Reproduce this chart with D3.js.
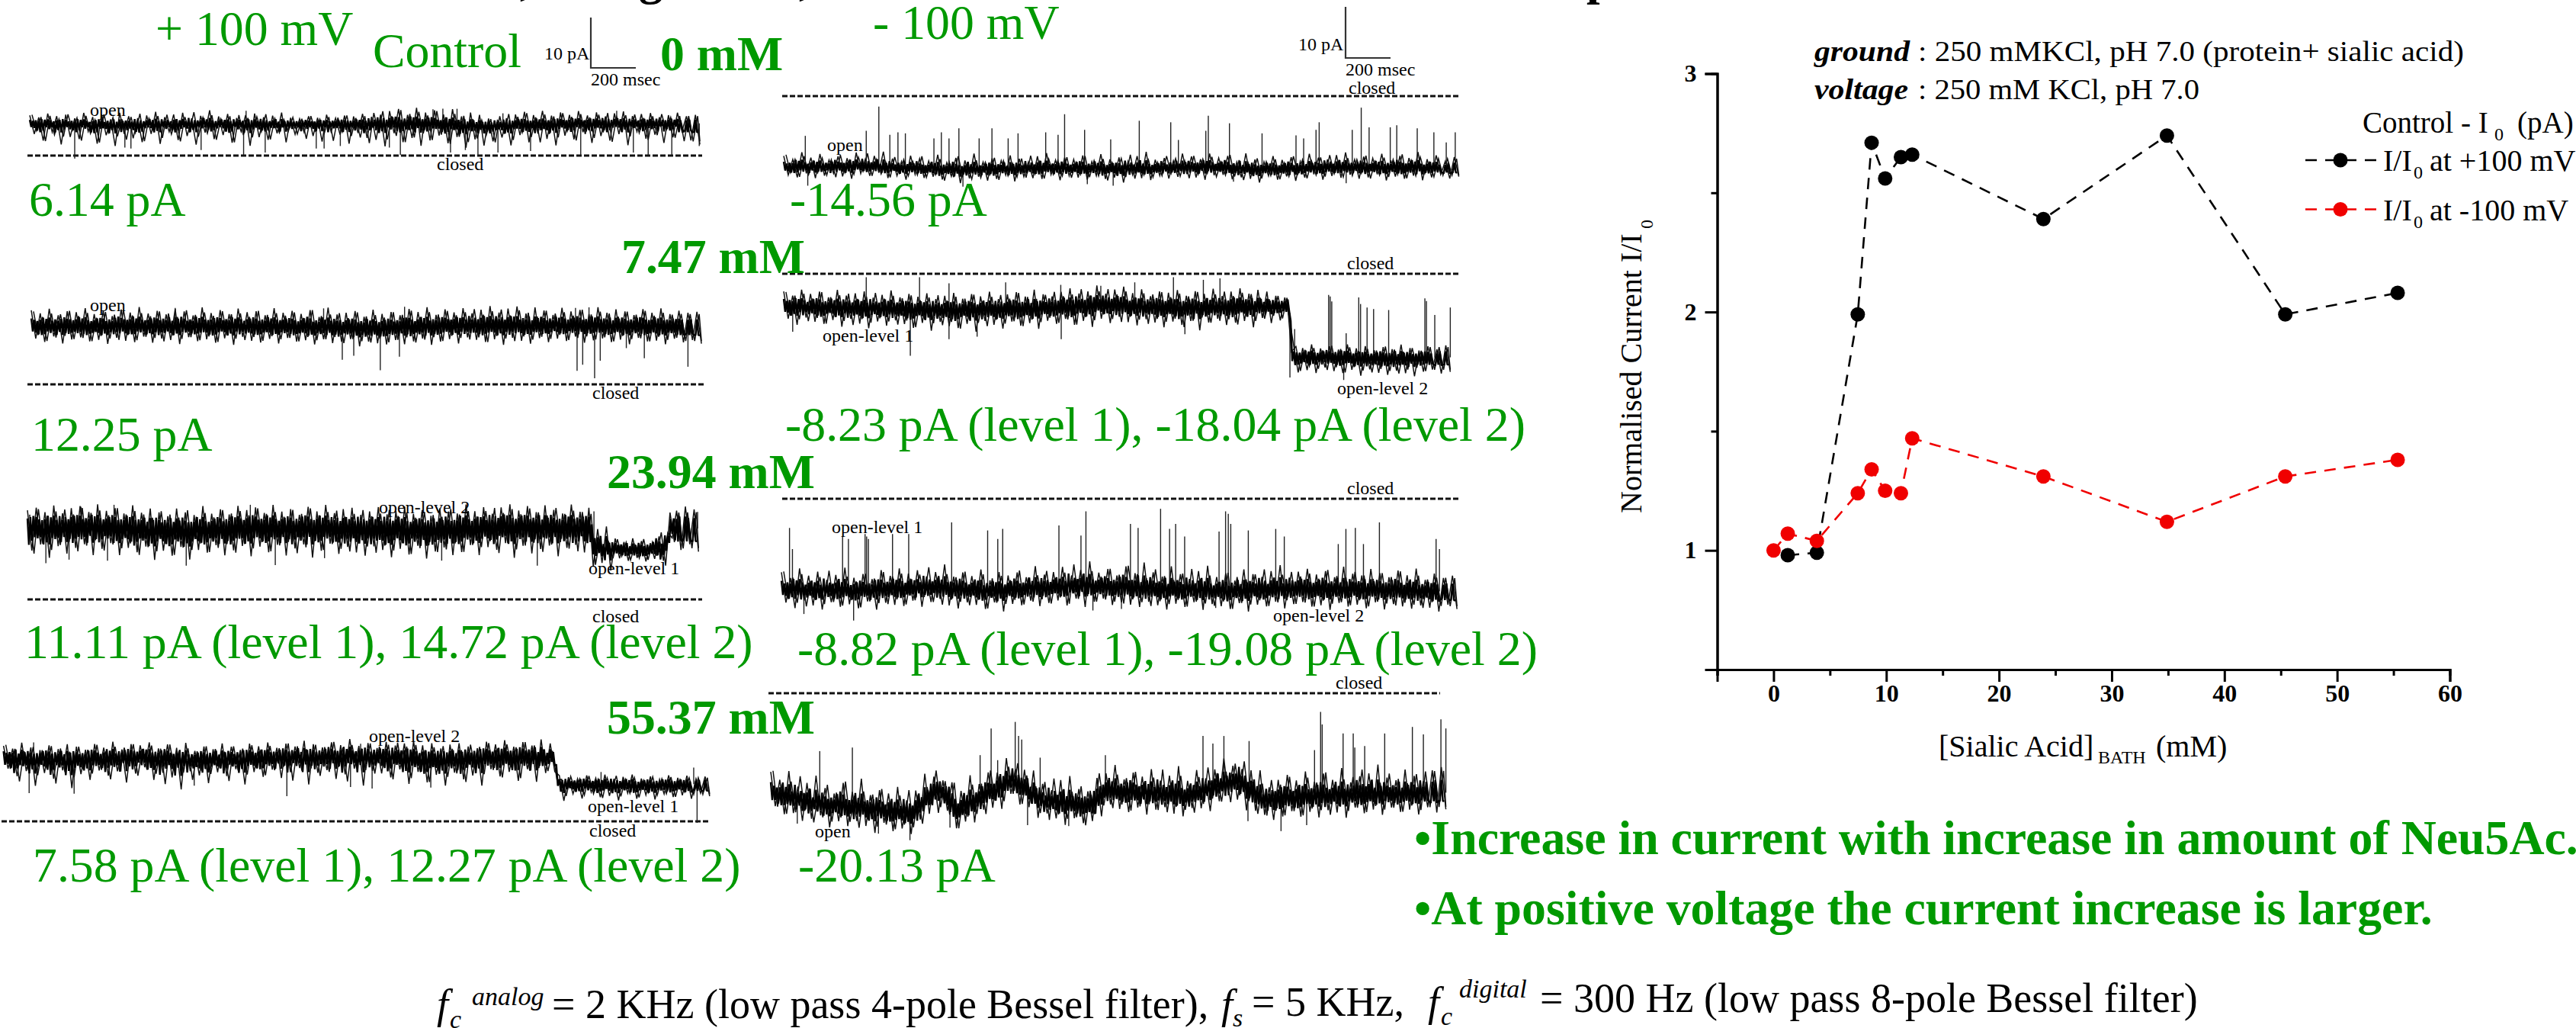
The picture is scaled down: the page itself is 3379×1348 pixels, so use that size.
<!DOCTYPE html>
<html>
<head>
<meta charset="utf-8">
<script src="https://cdn.jsdelivr.net/npm/d3@7"></script>
<style>
  html, body { margin: 0; padding: 0; background: #fff; overflow: hidden; }
  text { font-family: "Liberation Serif", serif; }
</style>
</head>
<body>
<script>
// Normalised current plot
const sialicBlack = [1.26, 3.84, 7.47, 8.7, 9.9, 11.3, 12.3, 23.94, 34.9, 45.4, 55.37];
const currentBlack = [0.98, 0.99, 1.99, 2.71, 2.56, 2.65, 2.66, 2.39, 2.74, 1.99, 2.08];
const sialicRed = [0, 1.26, 3.84, 7.47, 8.7, 9.9, 11.3, 12.3, 23.94, 34.9, 45.4, 55.37];
const currentRed = [1, 1.07, 1.04, 1.24, 1.34, 1.25, 1.24, 1.47, 1.31, 1.12, 1.31, 1.38];
const xMajor = [0, 10, 20, 30, 40, 50, 60];
const xMinor = [-5, 5, 15, 25, 35, 45, 55];
const yMajor = [1, 2, 3];
const yMinor = [0.5, 1.5, 2.5];

// Current traces. Level = [ms, pA] of the dark core of the trace.
// Noise = whisker deviations from the core in pA, up/down in turn, estimated by eye.
// Up/down spikes = [ms, pA] of the long thin events.
const trace1Level = [[0, 6.4], [400, 6.2], [700, 6.4], [1300, 6.3], [1700, 6.5], [2100, 6.1], [2500, 6.5], [2980, 6.4]];
const trace1Noise = [1.6, -2.1, 1.2, -3.4, 2.0, -1.7, 1.5, -4.1, 1.8, -2.6, 1.1, -3.0, 2.2, -1.5, 1.4, -3.9, 1.9, -2.2, 1.0, -4.3, 2.3, -1.9, 1.6, -2.8, 1.2, -3.6, 1.7, -2.0, 2.4, -4.0,
  1.3, -1.6, 1.8, -3.3, 2.1, -2.5, 1.0, -4.2, 1.5, -1.8, 2.6, -3.1, 1.4, -2.3, 1.9, -3.8, 1.1, -1.6, 1.7, -4.4, 2.0, -2.7, 1.3, -3.2, 1.6, -1.9, 2.2, -3.7, 1.2, -2.1,
  1.0, -1.7, 1.5, -2.4, 1.2, -3.5, 1.8, -1.6, 1.1, -2.2, 1.6, -4.0, 1.4, -1.9, 1.9, -2.9, 1.3, -3.3, 1.7, -4.6, 2.4, -2.0, 2.8, -3.8, 1.6, -3.0, 3.0, -4.5, 2.1, -3.4,
  2.6, -2.4, 1.8, -3.9, 2.9, -2.6, 1.5, -4.7, 2.3, -3.0, 1.9, -4.2, 1.2, -3.3, 1.0, -2.5, 1.3, -4.1, 2.0, -2.1, 2.5, -3.6, 1.8, -1.9, 2.6, -3.0, 1.6, -4.3, 2.2, -2.4,
  1.7, -3.2, 2.4, -1.8, 1.5, -4.0, 2.1, -2.6, 1.3, -3.5, 1.9, -2.2, 2.3, -4.4, 1.4, -1.7, 1.8, -3.1, 2.0, -2.3, 1.2, -3.9, 1.6, -2.8, 2.1, -1.6, 1.4, -3.4, 1.7, -4.2];
const trace1Down = [[200, -0.6], [423, 1.6], [450, 1.4], [762, 1.1], [951, 0.1], [1047, 0.6], [1274, 1.4], [1309, 1.4], [1381, 1.9], [1599, 1.6], [1648, 0.1], [1871, 0.6], [1937, 1.1], [1993, 0.1], [2082, 0.6], [2227, 0.9], [2450, 0.1], [2684, 0.6], [2750, 0.1], [2855, 0.1], [2977, 1.9]];
const trace1Up = [[962, 8.9], [1793, 9.2], [1837, 9.3], [1900, 9.3], [2104, 8.4], [2610, 8.9]];

const trace2Level = [[0, 11.5], [600, 11.6], [1200, 11.5], [1500, 11.1], [1800, 11.6], [2400, 11.7], [2980, 11.4]];
const trace2Noise = [3.2, -2.4, 2.6, -3.1, 3.5, -2.0, 2.2, -3.4, 3.0, -2.6, 2.8, -2.2, 3.6, -3.0, 2.4, -2.7, 3.1, -3.5, 2.0, -2.3, 3.3, -2.9, 2.7, -3.2, 3.8, -2.1, 2.5, -3.3, 3.0, -2.5,
  2.3, -2.8, 3.4, -3.6, 2.9, -2.2, 2.1, -3.0, 3.7, -2.6, 2.6, -3.3, 3.2, -2.4, 2.4, -3.7, 3.5, -2.1, 2.8, -2.9, 3.0, -3.2, 2.2, -2.5, 3.6, -3.4, 2.7, -2.3, 3.1, -3.0,
  2.5, -2.7, 3.3, -3.5, 2.0, -2.4, 3.9, -3.1, 2.6, -2.8, 3.0, -2.2, 3.4, -3.6, 2.3, -2.6, 3.7, -3.0, 2.8, -3.3, 3.1, -2.5, 2.4, -3.4, 3.6, -2.9, 2.9, -2.4, 3.8, -3.7,
  2.2, -3.1, 3.3, -2.6, 2.7, -3.5, 3.5, -2.3, 2.5, -2.8, 3.2, -3.2, 3.9, -2.7, 2.6, -3.8, 3.4, -2.4, 3.8, -3.0, 2.4, -3.6, 3.6, -2.5, 3.0, -3.3, 2.1, -2.6, 3.5, -3.1,
  2.8, -2.2, 3.1, -3.4, 2.3, -2.9, 3.7, -2.5, 2.6, -3.2, 3.3, -2.7, 2.9, -3.6, 2.2, -2.3, 3.4, -3.0, 2.7, -2.8, 3.6, -3.5, 2.5, -2.4, 3.2, -3.1, 2.8, -2.6, 3.0, -3.3];
const trace2Down = [[1383, 4.9], [1434, 5.7], [1552, 2.8], [1637, 5.5], [2427, 2.7], [2452, 3.9], [2505, 1.2], [2530, 4.7], [2646, 7.2], [2726, 5.2], [2920, 3.5]];
const trace2Up = [[640, 15.2], [1300, 15.1], [1660, 15.4], [2420, 15.2], [2480, 15.3]];

const trace3Level = [[0, 14.1], [300, 14.3], [700, 13.6], [1000, 14.2], [1500, 14.0], [1800, 13.7], [2100, 14.4], [2500, 14.2], [2528, 10.3], [2700, 9.9], [2839, 10.3], [2860, 14.0], [2984, 14.1]];
const trace3Noise = [3.6, -4.4, 4.1, -3.2, 3.2, -5.9, 4.5, -3.6, 2.9, -5.1, 3.9, -4.0, 4.3, -3.3, 3.1, -5.5, 4.6, -4.2, 3.4, -3.0, 4.0, -5.3, 3.0, -3.8, 4.7, -4.6, 3.3, -3.4, 4.2, -6.0,
  3.5, -4.1, 2.8, -5.0, 4.4, -3.2, 3.7, -5.7, 3.1, -3.9, 4.8, -4.5, 3.2, -3.1, 4.0, -5.2, 2.9, -4.3, 4.5, -3.5, 3.6, -5.6, 4.1, -3.7, 3.0, -4.8, 4.6, -3.3, 3.3, -5.4,
  3.8, -4.0, 2.7, -3.2, 4.3, -5.8, 3.4, -4.4, 4.7, -3.0, 3.1, -5.0, 3.9, -3.6, 4.2, -4.7, 2.8, -5.3, 3.5, -3.4, 4.4, -4.1, 3.0, -5.5, 3.7, -3.8, 4.6, -4.9, 3.2, -3.1,
  4.0, -5.6, 2.9, -4.2, 4.3, -3.5, 3.6, -5.1, 3.1, -4.6, 4.8, -3.3, 3.4, -5.4, 4.1, -3.9, 2.7, -4.5, 3.9, -3.2, 4.5, -6.1, 3.3, -3.7, 4.2, -5.2, 3.0, -4.3, 4.4, -3.6,
  3.5, -5.7, 2.8, -4.0, 4.6, -3.4, 3.2, -4.9, 4.0, -5.5, 3.7, -3.0, 4.3, -4.4, 2.0, -1.9, 1.4, -2.3, 2.2, -1.7, 1.6, -2.5, 1.1, -2.1, 2.3, -2.6, 1.5, -1.8, 3.6, -4.2, 4.4, -3.1, 3.8, -4.6];
const trace3Down = [[82, 7.2], [185, 7.9], [356, 7.7], [706, 6.7], [1102, 6.8], [1321, 8.2], [1842, 7.7], [2267, 6.7]];
const trace3Up = [[238, 18.4], [385, 18.8], [991, 18.8], [2519, 17.5], [2980, 17.4]];

const trace4Level = [[0, 12.6], [300, 12.3], [600, 12.8], [850, 12.2], [1200, 12.7], [1600, 13.0], [1900, 12.3], [2200, 12.8], [2450, 12.9], [2470, 7.5], [2800, 7.3], [3140, 7.4]];
const trace4Noise = [2.4, -2.1, 1.9, -3.6, 3.1, -2.5, 2.2, -5.4, 1.7, -2.8, 2.7, -3.9, 2.0, -2.2, 3.0, -5.7, 2.5, -3.0, 1.8, -4.2, 2.9, -2.4, 2.1, -3.5, 3.2, -2.7, 1.6, -5.0, 2.6, -3.3,
  2.3, -2.0, 3.0, -4.4, 1.9, -2.9, 2.8, -3.7, 2.2, -6.0, 3.3, -2.3, 1.8, -3.1, 2.6, -4.7, 2.0, -2.6, 3.1, -3.4, 2.4, -2.1, 1.7, -5.2, 2.9, -2.8, 2.3, -3.8, 3.0, -2.4,
  1.9, -4.1, 2.7, -3.0, 2.1, -2.2, 3.2, -5.5, 2.5, -3.2, 1.8, -2.7, 2.8, -4.5, 2.2, -3.6, 3.4, -2.5, 2.0, -5.9, 2.6, -2.9, 1.7, -3.3, 3.0, -4.0, 2.4, -2.3, 2.9, -5.1,
  3.5, -2.6, 2.7, -4.6, 3.2, -3.1, 2.1, -5.3, 2.8, -2.8, 3.0, -4.2, 2.3, -3.5, 1.9, -5.6, 3.1, -2.4, 2.5, -3.9, 3.3, -3.0, 2.0, -4.8, 2.9, -2.5, 2.2, -5.0, 3.4, -3.3,
  2.6, -2.7, 1.6, -3.4, 1.3, -2.0, 1.0, -2.9, 1.7, -1.6, 1.2, -2.6, 1.9, -2.3, 1.1, -3.2, 1.5, -1.7, 2.0, -2.8, 1.2, -2.1, 1.6, -3.0, 1.0, -1.9, 1.8, -2.5, 1.3, -2.2, 1.7, -2.9, 1.1, -1.8, 1.5, -2.4];
const trace4Down = [[114, 5.6], [314, 5.5], [848, 7.1], [1260, 5.0], [1543, 6.8], [1639, 6.5], [1900, 6.7], [3084, -0.3]];
const trace4Up = [[134, 15.7], [1588, 15.4], [2657, 9.8], [3069, 10.7]];

const trace5Level = [[0, -14.2], [350, -14.0], [780, -14.7], [1200, -14.3], [1500, -14.5], [1900, -14.1], [2100, -14.6], [2500, -14.2], [3002, -14.4]];
const trace5Noise = [2.3, -1.5, 1.6, -2.0, 3.0, -1.2, 1.9, -2.2, 2.6, -1.7, 1.4, -1.3, 2.1, -1.9, 1.7, -2.4, 2.8, -1.4, 1.5, -1.8, 2.2, -1.1, 3.1, -2.1, 1.8, -1.6, 1.3, -2.3, 2.5, -1.2,
  2.0, -1.8, 1.6, -1.5, 2.9, -2.0, 1.4, -1.3, 2.4, -2.6, 1.9, -1.7, 3.2, -1.4, 1.5, -2.2, 2.2, -1.9, 1.7, -1.2, 2.7, -2.5, 2.0, -1.6, 1.3, -1.9, 2.4, -2.1, 3.0, -1.3,
  1.6, -2.4, 2.1, -1.5, 1.8, -1.8, 2.6, -2.2, 1.4, -1.4, 2.9, -2.0, 1.9, -1.7, 2.3, -2.7, 1.5, -1.2, 2.5, -1.9, 3.3, -2.3, 1.7, -1.5, 2.0, -2.1, 1.4, -1.8, 2.8, -1.3,
  2.2, -2.0, 1.6, -2.5, 2.7, -1.6, 1.9, -1.4, 2.4, -2.2, 1.3, -1.7, 3.1, -1.9, 2.0, -2.6, 1.5, -1.3, 2.6, -2.1, 1.8, -1.5, 2.3, -2.4, 1.4, -1.8, 2.9, -1.2, 2.1, -2.3,
  1.7, -1.6, 2.5, -2.0, 3.0, -1.4, 1.6, -2.2, 2.2, -1.9, 1.9, -1.3, 2.8, -2.5, 1.5, -1.7, 2.4, -2.1, 2.0, -1.5, 3.2, -2.4, 1.8, -1.8, 2.6, -1.2, 1.4, -2.0, 2.3, -1.6];
const trace5Up = [[96, -7.9], [367, -6.9], [423, -2.1], [472, -7.7], [508, -7.2], [541, -7.4], [668, -8.4], [701, -7.2], [735, -8.4], [779, -6.4], [869, -8.4], [926, -6.4], [998, -8.4], [1042, -7.4], [1165, -7.2], [1220, -7.7], [1249, -3.6], [1338, -6.7], [1454, -8.6], [1581, -4.9], [1721, -5.2], [1755, -8.7], [1877, -6.9], [1888, -3.9], [1982, -5.4], [2127, -7.4], [2278, -7.8], [2312, -8.4], [2367, -6.7], [2381, -5.2], [2528, -6.7], [2568, -2.3], [2603, -6.2], [2697, -6.2], [2726, -5.8], [2817, -6.4], [2891, -7.2], [2946, -9.2], [2986, -7.2]];
const trace5Down = [[107, -17.8], [797, -18], [1350, -17.5], [1465, -17.8], [2000, -17], [2501, -17.3]];

const trace6Level = [[0, -6.5], [350, -6.8], [750, -7.2], [1100, -6.9], [1400, -6.2], [1800, -6.8], [2249, -6.2], [2262, -16.5], [2420, -16.4], [2600, -16.7], [2964, -16.6]];
const trace6Noise = [3.0, -2.4, 2.2, -3.6, 3.4, -2.1, 2.6, -2.9, 3.1, -3.3, 2.0, -2.5, 3.5, -3.8, 2.4, -2.2, 2.9, -3.1, 3.3, -4.0, 2.1, -2.6, 2.7, -3.4, 3.6, -2.3, 2.3, -3.0, 3.0, -3.7,
  2.5, -2.7, 3.2, -4.2, 2.1, -2.4, 2.8, -3.2, 3.4, -3.6, 2.2, -2.8, 3.1, -4.4, 2.6, -2.3, 3.5, -3.1, 2.0, -3.9, 2.9, -2.5, 3.3, -3.4, 2.4, -2.9, 3.7, -4.1, 2.7, -2.6,
  2.2, -3.3, 3.0, -2.4, 3.6, -3.7, 2.5, -3.0, 2.8, -4.3, 3.9, -2.7, 2.3, -3.5, 3.2, -2.2, 3.8, -3.2, 2.6, -3.8, 3.4, -2.5, 2.1, -3.1, 3.1, -4.0, 2.9, -2.8, 3.5, -3.4,
  2.4, -2.6, 3.3, -4.5, 2.7, -3.0, 3.7, -2.3, 2.2, -3.6, 3.0, -3.2, 3.6, -2.9, 2.5, -4.2, 3.2, -2.4, 2.8, -3.5, 1.9, -3.0, 1.5, -2.4, 2.2, -3.1, 1.7, -2.7, 2.4, -3.3,
  1.6, -2.2, 2.0, -2.9, 1.4, -3.2, 2.5, -2.5, 1.8, -3.6, 2.3, -2.3, 1.5, -3.0, 2.1, -3.4, 1.7, -2.6, 2.6, -3.1, 1.9, -3.7, 1.4, -2.8, 2.2, -2.4, 1.6, -3.2, 2.4, -2.9];
const trace6Up = [[367, -0.7], [604, -0.7], [735, -1.9], [987, -1.7], [1232, -2.2], [1410, -2.4], [1561, -1.7], [1733, -0.7], [1866, -1.2], [1940, -0.9], [2272, -11], [2423, -4.2], [2430, -4.5], [2437, -5.5], [2501, -11.8], [2557, -4.7], [2565, -6], [2594, -6.7], [2623, -7], [2690, -7.2], [2851, -4.9], [2858, -5.4], [2895, -8.2], [2964, -6.7]];
const trace6Down = [[40, -11.5], [563, -16.3], [735, -13], [860, -12.5], [1234, -13], [1784, -12], [2251, -20.6], [2490, -21.1]];

const trace7Level = [[0, -18], [330, -18.2], [660, -17.6], [950, -18.3], [1300, -17.3], [1700, -18], [2000, -18.3], [2300, -17.9], [2700, -18.1], [3004, -18.5]];
const trace7Noise = [3.4, -2.6, 2.3, -3.7, 4.2, -2.2, 2.8, -3.1, 3.6, -3.9, 2.0, -2.4, 3.0, -3.3, 4.5, -2.8, 2.5, -3.6, 3.2, -2.3, 2.1, -4.0, 3.8, -2.7, 2.6, -3.2, 4.0, -3.5, 2.9, -2.5,
  3.5, -3.8, 2.2, -2.9, 3.1, -2.2, 4.7, -3.4, 2.4, -3.9, 3.3, -2.6, 2.7, -3.0, 4.1, -3.7, 2.0, -2.3, 3.7, -4.2, 2.9, -2.8, 3.4, -3.2, 2.3, -2.4, 4.4, -3.6, 2.6, -3.1,
  3.0, -2.7, 3.9, -3.8, 2.1, -2.5, 3.2, -4.1, 5.0, -3.0, 2.8, -2.3, 3.6, -3.5, 2.4, -2.9, 4.3, -3.3, 3.0, -3.7, 5.2, -2.6, 3.3, -3.2, 2.5, -4.0, 4.6, -2.8, 3.1, -3.4,
  2.2, -2.4, 3.8, -3.9, 4.9, -2.7, 2.7, -3.1, 3.5, -3.6, 2.0, -2.5, 4.2, -4.2, 3.2, -2.9, 2.6, -3.3, 3.7, -2.4, 4.8, -3.8, 2.3, -3.0, 3.4, -2.6, 4.0, -3.5, 2.9, -3.2,
  3.6, -4.1, 2.4, -2.7, 4.5, -3.4, 3.1, -3.0, 2.8, -3.7, 4.1, -2.5, 3.3, -3.9, 2.5, -2.8, 3.9, -3.2, 3.0, -3.6, 4.4, -2.9, 2.2, -3.3, 3.5, -4.0, 2.7, -2.6, 3.2, -3.4];
const trace7Up = [[36, -5.8], [49, -10], [272, -7.5], [298, -8], [372, -7], [379, -7.5], [387, -8], [494, -7], [566, -7], [757, -4.7], [917, -6.3], [962, -8], [984, -6], [1234, -5.3], [1332, -7.3], [1354, -2.5], [1552, -5], [1586, -5.8], [1686, -2], [1726, -6], [1753, -5], [1793, -7.5], [1946, -6.5], [1975, -2.5], [1987, -3], [1998, -5], [2076, -6.3], [2198, -6], [2236, -7.5], [2476, -9], [2510, -6], [2552, -5.8], [2588, -9], [2659, -4.7], [2911, -8], [2926, -10]];
const trace7Down = [[100, -22.9], [321, -24.2], [1385, -22.2], [1512, -21.9], [1931, -21.7]];

const trace8Level = [[7, -19.8], [185, -21.9], [408, -22.9], [630, -23.9], [742, -18.8], [831, -23.4], [964, -20], [1076, -17.3], [1209, -21.4], [1432, -22.4], [1476, -19.4], [1855, -20.4], [2078, -17.3], [2189, -21.4], [2412, -20.4], [2969, -19.8]];
const trace8Noise = [4.1, -2.5, 3.0, -3.6, 5.2, -2.9, 2.6, -4.0, 3.8, -3.1, 5.6, -2.2, 3.3, -4.4, 2.4, -3.0, 4.7, -3.8, 3.1, -2.6, 5.9, -3.4, 2.8, -4.6, 4.0, -2.4, 3.5, -3.9, 5.0, -3.2,
  2.5, -4.1, 3.9, -2.8, 5.4, -3.5, 3.0, -4.8, 2.7, -2.3, 4.4, -3.7, 3.6, -3.0, 5.7, -4.2, 2.9, -2.7, 4.2, -3.3, 3.2, -4.5, 5.1, -2.5, 2.6, -3.8, 3.7, -3.1, 4.8, -4.0,
  3.4, -2.4, 2.3, -3.2, 4.5, -4.3, 5.5, -2.8, 3.1, -3.6, 2.8, -3.0, 4.3, -4.7, 3.5, -2.6, 5.3, -3.4, 2.5, -3.9, 4.0, -2.9, 3.3, -4.2, 4.9, -3.1, 2.7, -2.5, 3.8, -3.7,
  5.8, -4.1, 3.0, -2.7, 4.6, -3.3, 2.4, -4.4, 3.6, -3.0, 5.2, -2.4, 3.2, -3.8, 2.9, -4.6, 4.1, -3.2, 5.6, -2.8, 2.6, -4.0, 3.9, -3.5, 4.7, -2.6, 3.4, -3.9, 5.0, -3.1,
  2.8, -4.3, 4.4, -2.9, 3.1, -3.4, 5.4, -4.5, 2.5, -2.5, 3.7, -3.7, 4.2, -3.0, 5.9, -4.1, 3.3, -2.7, 2.7, -3.6, 4.8, -3.2, 3.5, -4.2, 2.4, -2.8, 4.5, -3.9, 5.1, -3.3];
const trace8Up = [[218, -11.5], [363, -10.8], [931, -12.3], [980, -7], [1009, -13.3], [1087, -5.7], [1102, -8.5], [1116, -9.2], [1198, -12.8], [1488, -12.3], [1922, -8.5], [1966, -10], [2015, -8.5], [2127, -9.5], [2418, -11.3], [2445, -3.7], [2452, -6.2], [2545, -8], [2590, -8], [2597, -10.8], [2641, -10.5], [2730, -8], [2853, -6.7], [2902, -8.2], [2980, -5.2], [3002, -7]];
const trace8Down = [[118, -25.9], [479, -27.9], [619, -29.2], [797, -26.7], [1142, -26.2], [1325, -26.4], [2122, -25.4], [2269, -27.4], [2383, -26.2]];

const width = 3379, height = 1348;
const green = "#009900";

const svg = d3.select("body")
    .append("svg")
    .attr("width", width)
    .attr("height", height)
    .attr("viewBox", [0, 0, width, height]);

function label(x, y, str, size, opts = {}) {
    const t = svg.append("text")
        .attr("x", x)
        .attr("y", y)
        .attr("font-size", size)
        .attr("fill", opts.fill || "#000")
        .attr("font-weight", opts.weight || "normal")
        .attr("font-style", opts.style || "normal")
        .text(str);
    // some of the text in the picture is stretched sideways
    if (opts.len) t.attr("textLength", opts.len).attr("lengthAdjust", "spacingAndGlyphs");
    return t;
}

// 10 pA = 66 px and 200 msec = 59 px on the scale bars
function drawTrace(t) {
    const xs = d3.scaleLinear().domain([0, 200]).range([t.x0, t.x0 + 59]);
    const ys = d3.scaleLinear().domain([0, 10]).range([t.closedY, t.closedY - 66]);
    const levelAt = d3.scaleLinear().domain(t.level.map(d => d[0])).range(t.level.map(d => d[1]));
    const line = d3.line().x(d => xs(d[0])).y(d => ys(d[1]));
    const n = t.noise.length;
    const step = t.duration / (n - 1);

    svg.append("line")
        .attr("x1", t.dash[0]).attr("x2", t.dash[1])
        .attr("y1", t.closedY).attr("y2", t.closedY)
        .attr("stroke", "#111").attr("stroke-width", 3).attr("stroke-dasharray", "7 3");

    // spikes
    svg.append("g").selectAll("line")
        .data(t.up.concat(t.down))
        .enter().append("line")
        .attr("x1", d => xs(d[0])).attr("x2", d => xs(d[0]))
        .attr("y1", d => ys(levelAt(d[0]))).attr("y2", d => ys(d[1]))
        .attr("stroke", "#222").attr("stroke-width", 1.4);

    // whiskers, drawn twice half a step apart to fill the band
    const whiskers = t.noise.map((v, i) => [i * step, levelAt(i * step) + v]);
    const whiskers2 = t.noise.map((v, i) => {
        const ms = Math.min((i + 0.5) * step, t.duration);
        return [ms, levelAt(ms) + 0.85 * t.noise[Math.min(i + 4, n - 1 - (n - 1 - i) % 2)]];
    });
    [whiskers, whiskers2].forEach(w => {
        svg.append("path")
            .attr("d", line(w))
            .attr("fill", "none").attr("stroke", "#111").attr("stroke-width", 1.5);
    });

    // dark core: the same deviations, small and close together
    const core = d3.range((n - 1) * 3).map(j => {
        const k = Math.floor(j / 3);
        const dev = t.noise[Math.min(k + [0, 5, 2][j % 3], n - 1)];
        const ms = j * step / 3;
        return [ms, levelAt(ms) + t.coreScale * dev];
    });
    svg.append("path")
        .attr("d", line(core))
        .attr("fill", "none").attr("stroke", "#000").attr("stroke-width", 2.4).attr("stroke-linejoin", "bevel");
}

const traces = [
    { x0: 39, closedY: 204, dash: [36, 921], duration: 2980, level: trace1Level, noise: trace1Noise, up: trace1Up, down: trace1Down, coreScale: 0.42 },
    { x0: 41, closedY: 504, dash: [36, 924], duration: 2980, level: trace2Level, noise: trace2Noise, up: trace2Up, down: trace2Down, coreScale: 0.5 },
    { x0: 36, closedY: 786, dash: [36, 921], duration: 2984, level: trace3Level, noise: trace3Noise, up: trace3Up, down: trace3Down, coreScale: 0.55 },
    { x0: 4.6, closedY: 1077, dash: [2, 930], duration: 3140, level: trace4Level, noise: trace4Noise, up: trace4Up, down: trace4Down, coreScale: 0.55 },
    { x0: 1028, closedY: 126, dash: [1026, 1914], duration: 3002, level: trace5Level, noise: trace5Noise, up: trace5Up, down: trace5Down, coreScale: 0.5 },
    { x0: 1028, closedY: 359, dash: [1026, 1914], duration: 2964, level: trace6Level, noise: trace6Noise, up: trace6Up, down: trace6Down, coreScale: 0.5 },
    { x0: 1025, closedY: 654, dash: [1026, 1913], duration: 3004, level: trace7Level, noise: trace7Noise, up: trace7Up, down: trace7Down, coreScale: 0.5 },
    { x0: 1011, closedY: 909, dash: [1008, 1889], duration: 3002, level: trace8Level, noise: trace8Noise, up: trace8Up, down: trace8Down, coreScale: 0.5 }
];
traces.forEach(drawTrace);

// scale bars
[[775, 23, 89], [1765, 9, 76]].forEach(b => {
    svg.append("path")
        .attr("d", `M${b[0]},${b[1]}V${b[2]}H${b[0] + 59}`)
        .attr("fill", "none").attr("stroke", "#333").attr("stroke-width", 2.2);
});

// small labels on the traces
const smallLabels = [
    [714, 78, "10 pA"], [775, 112, "200 msec"], [118, 152, "open"], [573, 223, "closed"],
    [1703, 66, "10 pA"], [1765, 99, "200 msec"], [1769, 123, "closed"], [1085, 198, "open"],
    [118, 408, "open"], [777, 523, "closed"],
    [1767, 353, "closed"], [1079, 448, "open-level 1"], [1754, 517, "open-level 2"],
    [497, 673, "open-level 2"], [772, 753, "open-level 1"], [777, 816, "closed"],
    [1767, 648, "closed"], [1091, 699, "open-level 1"], [1670, 815, "open-level 2"],
    [484, 973, "open-level 2"], [771, 1065, "open-level 1"], [773, 1097, "closed"],
    [1752, 903, "closed"], [1069, 1098, "open"]
];
smallLabels.forEach(d => label(d[0], d[1], d[2], 24));

// green headings and currents
const greenLabels = [
    [204, 59, "+ 100 mV"], [489, 88, "Control"], [1145, 51, "- 100 mV"],
    [38, 283, "6.14 pA"], [1036, 283, "-14.56 pA"],
    [41, 591, "12.25 pA"], [1030, 578, "-8.23 pA (level 1), -18.04 pA (level 2)"],
    [32, 863, "11.11 pA (level 1), 14.72 pA (level 2)"], [1046, 872, "-8.82 pA (level 1), -19.08 pA (level 2)"],
    [43, 1156, "7.58 pA (level 1), 12.27 pA (level 2)"], [1047, 1156, "-20.13 pA"]
];
greenLabels.forEach(d => label(d[0], d[1], d[2], 63.8, { fill: green }));

const greenBold = [
    [866, 92, "0 mM"], [815, 358, "7.47 mM"], [796, 640, "23.94 mM"], [796, 962, "55.37 mM"],
    [1855, 1120, "•Increase in current with increase in amount of Neu5Ac."],
    [1855, 1212, "•At positive voltage the current increase is larger."]
];
greenBold.forEach(d => label(d[0], d[1], d[2], 63.8, { fill: green, weight: "bold" }));

// title cut off by the top edge
[[682, ","], [838, "g"], [1048, ","], [2081, "p"]].forEach(d => label(d[0], -8, d[1], 63, { weight: "bold" }));

// filter settings line
label(573, 1335, "f", 54, { style: "italic" });
label(590, 1348, "c", 34, { style: "italic" });
label(619, 1318, "analog", 34, { style: "italic" });
label(724, 1335, "= 2 KHz (low pass 4-pole Bessel filter),", 54);
label(1602, 1335, "f", 54, { style: "italic" });
label(1617, 1346, "s", 34, { style: "italic" });
label(1642, 1332, "= 5 KHz,", 54);
label(1873, 1332, "f", 54, { style: "italic" });
label(1890, 1344, "c", 34, { style: "italic" });
label(1914, 1308, "digital", 34, { style: "italic" });
label(2020, 1327, "= 300 Hz (low pass 8-pole Bessel filter)", 54);

// plot
const x = d3.scaleLinear().domain([-5, 60]).range([2252.5, 3213.5]);
const y = d3.scaleLinear().domain([0.5, 3]).range([878, 96.5]);
const axisY = 878, axisX = 2252.5;

const xAxis = d3.axisBottom(x).tickValues(xMajor).tickSize(16).tickFormat(d3.format("d"));
const xAxisMinor = d3.axisBottom(x).tickValues(xMinor).tickSize(8).tickFormat("");
const yAxis = d3.axisLeft(y).tickValues(yMajor).tickSize(16).tickFormat(d3.format("d"));
const yAxisMinor = d3.axisLeft(y).tickValues(yMinor).tickSize(8).tickFormat("");

[[xAxisMinor, `translate(0,${axisY})`, 0], [xAxis, `translate(0,${axisY})`, 0],
 [yAxisMinor, `translate(${axisX},0)`, -8], [yAxis, `translate(${axisX},0)`, -8]].forEach(a => {
    const g = svg.append("g").attr("transform", a[1]).call(a[0]);
    g.selectAll("path").attr("stroke", "#000").attr("stroke-width", 3);
    g.selectAll("line").attr("stroke", "#000").attr("stroke-width", 3);
    g.selectAll("text")
        .attr("fill", "#000")
        .attr("font-family", "Liberation Serif")
        .attr("font-weight", "bold")
        .attr("font-size", 32)
        .attr("dx", a[2]);
});

function plotSeries(xs, vs, color) {
    const pts = xs.map((d, i) => [d, vs[i]]);
    svg.append("path")
        .attr("d", d3.line().x(d => x(d[0])).y(d => y(d[1]))(pts))
        .attr("fill", "none").attr("stroke", color).attr("stroke-width", 2.6).attr("stroke-dasharray", "15 11");
    svg.append("g").selectAll("circle")
        .data(pts)
        .enter().append("circle")
        .attr("cx", d => x(d[0]))
        .attr("cy", d => y(d[1]))
        .attr("r", 9.5)
        .attr("fill", color);
}
plotSeries(sialicBlack, currentBlack, "#000");
plotSeries(sialicRed, currentRed, "#f00000");

// axis titles
label(2543, 992, "[Sialic Acid]", 40);
label(2752, 1001, "BATH", 24);
label(2828, 992, "(mM)", 40);
label(0, 0, "Normalised Current I/I", 40).attr("transform", "translate(2153,673) rotate(-90)");
label(0, 0, "0", 24).attr("transform", "translate(2168,300) rotate(-90)");

// conditions
label(2380, 80, "ground", 38, { weight: "bold", style: "italic", len: 125 });
label(2516, 80, ": 250 mMKCl, pH 7.0 (protein+ sialic acid)", 38, { len: 716 });
label(2380, 130, "voltage", 38, { weight: "bold", style: "italic", len: 123 });
label(2516, 130, ": 250 mM KCl, pH 7.0", 38, { len: 369 });

// legend
label(3099, 174, "Control - I", 39);
label(3272, 184, "0", 24);
label(3302, 174, "(pA)", 39);
[[210, "#000", "+100 mV", 224], [274.5, "#f00000", "-100 mV", 289]].forEach(d => {
    svg.append("line")
        .attr("x1", 3024).attr("x2", 3118).attr("y1", d[0]).attr("y2", d[0])
        .attr("stroke", d[1]).attr("stroke-width", 2.6).attr("stroke-dasharray", "15 11");
    svg.append("circle").attr("cx", 3070).attr("cy", d[0]).attr("r", 9.5).attr("fill", d[1]);
    label(3126, d[3], "I/I", 40);
    label(3166, d[3] + 10, "0", 24);
    label(3187, d[3], "at " + d[2], 40);
});
</script>
</body>
</html>
